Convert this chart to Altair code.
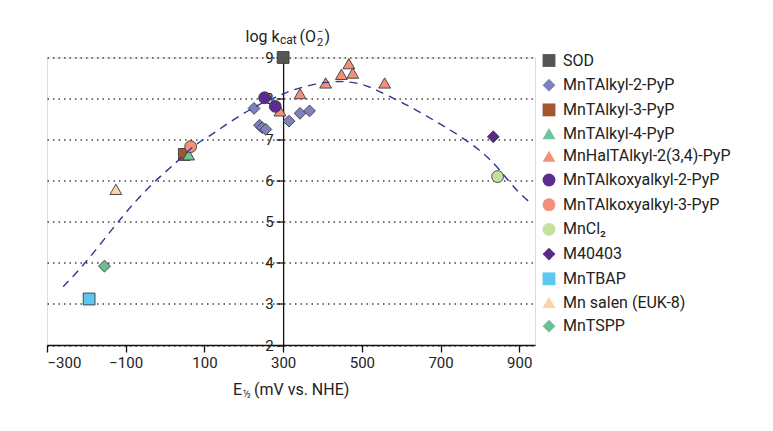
import altair as alt
import pandas as pd

# ---------------- data ----------------
series_names = ["SOD", "MnTAlkyl-2-PyP", "MnTAlkyl-3-PyP", "MnTAlkyl-4-PyP",
                "MnHalTAlkyl-2(3,4)-PyP", "MnTAlkoxyalkyl-2-PyP", "MnTAlkoxyalkyl-3-PyP",
                "MnCl₂", "M40403", "MnTBAP", "Mn salen (EUK-8)", "MnTSPP"]
series_colors = ["#555555", "#7d82bd", "#a4562c", "#70c49c",
                 "#f39078", "#5b2c8f", "#f39078",
                 "#c6e0a2", "#5a2a88", "#5cc8f0", "#fcd4a4", "#6cbf90"]
series_shapes = ["square", "diamond", "square", "triangle-up",
                 "triangle-up", "circle", "circle",
                 "circle", "diamond", "square", "triangle-up", "diamond"]

sod_e = [300];  sod_k = [9.0]
alkyl2_e = [226, 240, 247, 256, 315, 343, 367]
alkyl2_k = [7.76, 7.35, 7.29, 7.25, 7.45, 7.64, 7.70]
alkyl3_e = [49];  alkyl3_k = [6.64]
alkyl4_e = [60];  alkyl4_k = [6.63]
hal_e = [292, 343, 408, 448, 467, 477, 558]
hal_k = [7.70, 8.12, 8.38, 8.59, 8.85, 8.62, 8.38]
alkoxy2_e = [253, 280];  alkoxy2_k = [8.02, 7.81]
alkoxy3_e = [65];  alkoxy3_k = [6.83]
mncl2_e = [845];  mncl2_k = [6.10]
m40403_e = [834];  m40403_k = [7.07]
mntbap_e = [-193];  mntbap_k = [3.12]
salen_e = [-125];  salen_k = [5.79]
mntspp_e = [-154];  mntspp_k = [3.92]

# dashed trend curve
fit_e = [-259, -202, -130, -80, -29, 31, 73, 116, 149, 196, 242, 293, 319, 370,
         412, 450, 501, 535, 590, 632, 683, 726, 777, 815, 844, 895, 930]
fit_k = [3.42, 3.99, 4.88, 5.45, 5.97, 6.46, 6.87, 7.10, 7.33, 7.62, 7.88, 8.08, 8.20, 8.33,
         8.40, 8.43, 8.36, 8.22, 7.96, 7.76, 7.47, 7.23, 6.91, 6.62, 6.34, 5.73, 5.45]

x_ticks = [-300, -100, 100, 300, 500, 700, 900]
y_ticks = [2, 3, 4, 5, 6, 7, 8, 9]

# ---------------- build tables ----------------
groups = [(sod_e, sod_k), (alkyl2_e, alkyl2_k), (alkyl3_e, alkyl3_k), (alkyl4_e, alkyl4_k),
          (hal_e, hal_k), (alkoxy2_e, alkoxy2_k), (alkoxy3_e, alkoxy3_k),
          (mncl2_e, mncl2_k), (m40403_e, m40403_k), (mntbap_e, mntbap_k),
          (salen_e, salen_k), (mntspp_e, mntspp_k)]
rows = []
i = 0
for name, (es, ks) in zip(series_names, groups):
    for e, k in zip(es, ks):
        rows.append({"series": name, "E": e, "k": k, "ord": i})
        i += 1
df = pd.DataFrame(rows)
fit_df = pd.DataFrame({"E": fit_e, "k": fit_k})

FONT = "Roboto"
W, H = 488, 287.5
XDOM = [-300, 940]
x_scale = alt.Scale(domain=XDOM, nice=False, zero=False)
y_scale = alt.Scale(domain=[2, 9], nice=False, zero=False)
y_offset = -(300 - XDOM[0]) / (XDOM[1] - XDOM[0]) * W

legend = alt.Legend(title=None, orient="none", legendX=494, legendY=-5,
                    labelFont=FONT, labelFontSize=16, labelColor="#222222", labelLimit=0,
                    symbolSize=165, symbolStrokeColor="#3a3a3a", symbolStrokeWidth=0.9,
                    rowPadding=6.7, labelOffset=6, padding=0, symbolOpacity=1)

points = alt.Chart(df).mark_point(filled=True, size=140, opacity=1,
                                  stroke="#3a3a3a", strokeWidth=0.9).encode(
    x=alt.X("E:Q", scale=x_scale,
            axis=alt.Axis(values=x_ticks, title=None, grid=False, domainColor="#111111",
                          domainWidth=1.3, tickColor="#111111", tickWidth=1.3, tickSize=7,
                          labelFont=FONT, labelFontSize=15, labelColor="#222222",
                          labelPadding=3)),
    y=alt.Y("k:Q", scale=y_scale,
            axis=alt.Axis(values=y_ticks, title=None, offset=y_offset, grid=True,
                          gridColor="#444444", gridDash=[1.5, 4], gridWidth=1.3,
                          domainColor="#111111", domainWidth=1.3, tickColor="#111111",
                          tickWidth=1.3, tickSize=7, labelFont=FONT, labelFontSize=15,
                          labelColor="#222222", labelPadding=3)),
    fill=alt.Fill("series:N", scale=alt.Scale(domain=series_names, range=series_colors),
                  legend=legend),
    shape=alt.Shape("series:N", scale=alt.Scale(domain=series_names, range=series_shapes),
                    legend=legend),
    order=alt.Order("ord:Q"),
)

curve = alt.Chart(fit_df).mark_line(color="#35358f", strokeWidth=1.4, strokeDash=[8, 6],
                                    interpolate="basis").encode(
    x=alt.X("E:Q", scale=x_scale), y=alt.Y("k:Q", scale=y_scale))


def label(txt, x, y, size):
    return alt.Chart(pd.DataFrame({"t": [txt]})).mark_text(
        align="left", baseline="alphabetic", font=FONT, fontSize=size, color="#222222"
    ).encode(text="t:N", x=alt.value(x), y=alt.value(y))


texts = [
    label("log k", 198.5, -16, 16),
    label("cat", 233, -14, 12),
    label("(O", 252.5, -16, 16),
    label("2", 270, -11.5, 11),
    label("−", 270, -23, 11),
    label(")", 277.5, -16, 16),
    label("E", 186, 337.5, 16),
    label("½", 196, 340.5, 10),
    label("(mV vs. NHE)", 207, 337.5, 16),
]

chart = alt.layer(points, curve, *texts).properties(
    width=W, height=H,
    padding={"left": 39, "top": 49.5, "right": 215, "bottom": 70},
    autosize=alt.AutoSizeParams(type="none"),
    background="white",
).configure_view(stroke=None).configure(font=FONT)

chart.save("out.html", embed_options={"renderer": "svg", "actions": False})
